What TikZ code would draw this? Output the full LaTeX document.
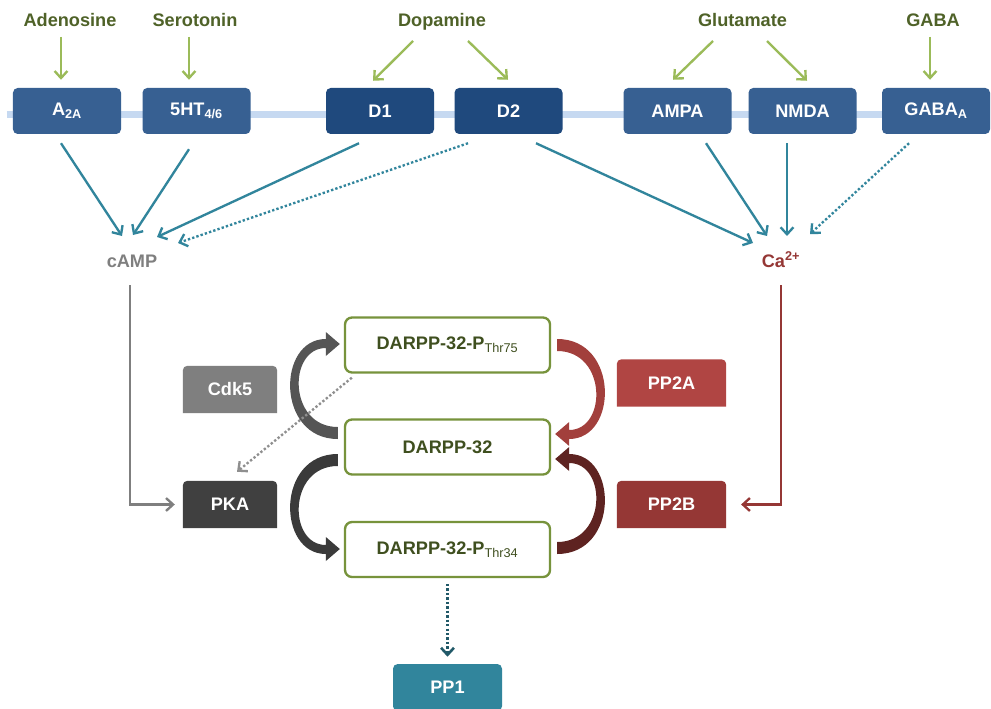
\documentclass[tikz,border=0pt]{standalone}
\usepackage{fontspec}
\setmainfont{Liberation Sans}
\usepackage{tikz}
\usetikzlibrary{arrows.meta, calc, backgrounds}
\usepackage{xcolor}

\definecolor{verdeesc}{HTML}{4F6228}
\definecolor{verde}{HTML}{9BBB59}
\definecolor{azul}{HTML}{376092}
\definecolor{azulesc}{HTML}{1F497D}
\definecolor{membrana}{HTML}{C6D9F1}
\definecolor{petroleo}{HTML}{31859C}
\definecolor{petroleoesc}{HTML}{215968}
\definecolor{cinza}{HTML}{7F7F7F}
\definecolor{cinzaclaro}{HTML}{8F8F8F}
\definecolor{vermelho}{HTML}{953735}
\definecolor{borda}{HTML}{77933C}
\definecolor{textodarpp}{HTML}{3F4F1F}
\definecolor{pp2acor}{HTML}{B04543}
\definecolor{pkacor}{HTML}{404040}
\definecolor{seta1}{HTML}{555555}
\definecolor{seta2}{HTML}{3A3A3A}
\definecolor{seta3}{HTML}{A23F3C}
\definecolor{seta4}{HTML}{5E2321}

% seta curva grossa
\newcommand{\setacurva}[1]{\fill[#1] (0,6) .. controls (-62,6) and (-61,-94) .. (-12,-94) -- (-12,-101) -- (2,-89) -- (-12,-77) -- (-12,-85) .. controls (-50,-85) and (-50,-6) .. (0,-6) -- cycle;}

\begin{document}
\begin{tikzpicture}[x=0.03cm, y=-0.03cm,
    every node/.style={font=\fontsize{15.5}{18}\selectfont\bfseries},
    rotulo/.style={text=verdeesc, anchor=base, inner sep=0pt},
    receptor/.style={fill=azul, text=white, rounded corners=4pt, minimum width=3.24cm, minimum height=1.38cm},
    darpp/.style={draw=borda, line width=2pt, fill=white, rounded corners=6pt, text=textodarpp, minimum width=6.15cm, minimum height=1.65cm},
    aba/.style={text=white, minimum width=2.82cm, minimum height=1.41cm},
    ponta/.style={-{Straight Barb[length=6pt,width=11pt]}},
    ligante/.style={verde, line width=2pt, ponta},
    sinal/.style={petroleo, line width=2pt, ponta},
    pontilhado/.style={dash pattern=on 2pt off 1.8pt}]

    \useasboundingbox (0,0) rectangle (991,709);

    % receptores
    \node[receptor] (a2a) at (67,111) {A\textsubscript{2A}};
    \node[receptor] (ht) at (196.5,111) {5HT\textsubscript{4/6}};
    \node[receptor, fill=azulesc] (d1) at (380,111) {D1};
    \node[receptor, fill=azulesc] (d2) at (508.5,111) {D2};
    \node[receptor] (ampa) at (677.5,111) {AMPA};
    \node[receptor] (nmda) at (802.5,111) {NMDA};
    \node[receptor] (gabaa) at (936,111) {GABA\textsubscript{A}};

    % ligantes
    \node[rotulo] (adenosina) at (70,27) {Adenosine};
    \node[rotulo] (serotonina) at (195,27) {Serotonin};
    \node[rotulo] (dopamina) at (442,27) {Dopamine};
    \node[rotulo] (glutamato) at (742.5,27) {Glutamate};
    \node[rotulo] (gaba) at (933,27) {GABA};

    \draw[ligante] ($(adenosina.base)+(-9,10)$) -- ($(a2a.north)+(-6,-8)$);
    \draw[ligante] ($(serotonina.base)+(-6,10)$) -- ($(ht.north)+(-7.5,-8)$);
    \draw[ligante] ($(dopamina.base)+(-29,14)$) -- ($(d1.north)+(-7,-7)$);
    \draw[ligante] ($(dopamina.base)+(26,14)$) -- ($(d2.north)+(-0.5,-8)$);
    \draw[ligante] ($(glutamato.base)+(-29.5,14)$) -- ($(ampa.north)+(-4.5,-8)$);
    \draw[ligante] ($(glutamato.base)+(24.5,14)$) -- ($(nmda.north)+(4.5,-7)$);
    \draw[ligante] ($(gaba.base)+(-3,10)$) -- ($(gabaa.north)+(-6,-8)$);

    % segundos mensageiros
    \node[rotulo, text=cinza] (camp) at (132,267) {cAMP};
    \node[rotulo, text=vermelho] (ca) at (781,267) {Ca\textsuperscript{2+}};

    \draw[sinal] ($(a2a.south)+(-6,9)$) -- ($(camp.base)+(-10,-31)$);
    \draw[sinal] ($(ht.south)+(-7.5,15)$) -- ($(camp.base)+(1,-32)$);
    \draw[sinal] ($(d1.south)+(-21,9)$) -- ($(camp.base)+(25,-30)$);
    \draw[sinal, pontilhado] ($(d2.south)+(-40.5,9)$) -- ($(camp.base)+(46,-24)$);
    \draw[sinal] ($(d2.south)+(27.5,9)$) -- ($(ca.base)+(-28,-24)$);
    \draw[sinal] ($(ampa.south)+(28.5,9)$) -- ($(ca.base)+(-14,-31)$);
    \draw[sinal] ($(nmda.south)+(-15.5,9)$) -- ($(ca.base)+(6,-31)$);
    \draw[sinal, pontilhado] ($(gabaa.south)+(-27,9)$) -- ($(ca.base)+(29,-33)$);

    % DARPP-32
    \node[darpp] (dtop) at (447.5,345) {DARPP-32-P\textsubscript{\mdseries Thr75}};
    \node[darpp] (dmid) at (447.5,447) {DARPP-32};
    \node[darpp] (dbot) at (447.5,549.5) {DARPP-32-P\textsubscript{\mdseries Thr34}};

    % quinases e fosfatases
    \node[aba] (cdk) at (230,389.5) {Cdk5};
    \node[aba] (pka) at (230,504.5) {PKA};
    \node[aba, minimum width=3.27cm] (pp2a) at (671.5,383) {PP2A};
    \node[aba, minimum width=3.27cm] (pp2b) at (671.5,504.5) {PP2B};
    \node[receptor, fill=petroleo, minimum width=3.27cm, minimum height=1.41cm] (pp1) at (447.5,687.5) {PP1};

    \begin{scope}[on background layer]
        \fill[white] (0,0) rectangle (991,709);
        \draw[line width=0.21cm, membrana] ($(a2a.west)+(-6,3.5)$) -- ($(gabaa.east)+(0,3.5)$);
        \foreach \n/\c in {cdk/cinza, pka/pkacor, pp2a/pp2acor, pp2b/vermelho}
            \fill[\c] (\n.south west) [rounded corners=4pt] -- (\n.north west) -- (\n.north east) [sharp corners] -- (\n.south east) -- cycle;
    \end{scope}

    % setas curvas
    \begin{scope}[shift={($(dmid.west)+(-6,-14)$)}] \setacurva{seta1} \end{scope}
    \begin{scope}[shift={($(dmid.west)+(-6,13)$)}, yscale=-1] \setacurva{seta2} \end{scope}
    \begin{scope}[shift={($(dtop.east)+(6,0)$)}, xscale=-1, yscale=-1] \setacurva{seta3} \end{scope}
    \begin{scope}[shift={($(dbot.east)+(6,-1.5)$)}, xscale=-1] \setacurva{seta4} \end{scope}

    % vias
    \draw[cinza, line width=2pt, ponta, shorten >=6.8pt] ($(camp.base)+(-2,18)$) |- (pka.west);
    \draw[vermelho, line width=2pt, ponta, shorten >=12.7pt] ($(ca.base)+(0,18)$) |- (pp2b.east);
    \draw[cinzaclaro, line width=2pt, pontilhado, ponta] ($(dtop.south west)+(8,4)$) -- ($(pka.north)+(7,-9)$);
    \draw[petroleoesc, line width=2.2pt, pontilhado, ponta, shorten <=5pt, shorten >=6pt] (dbot) -- (pp1);
\end{tikzpicture}
\end{document}
